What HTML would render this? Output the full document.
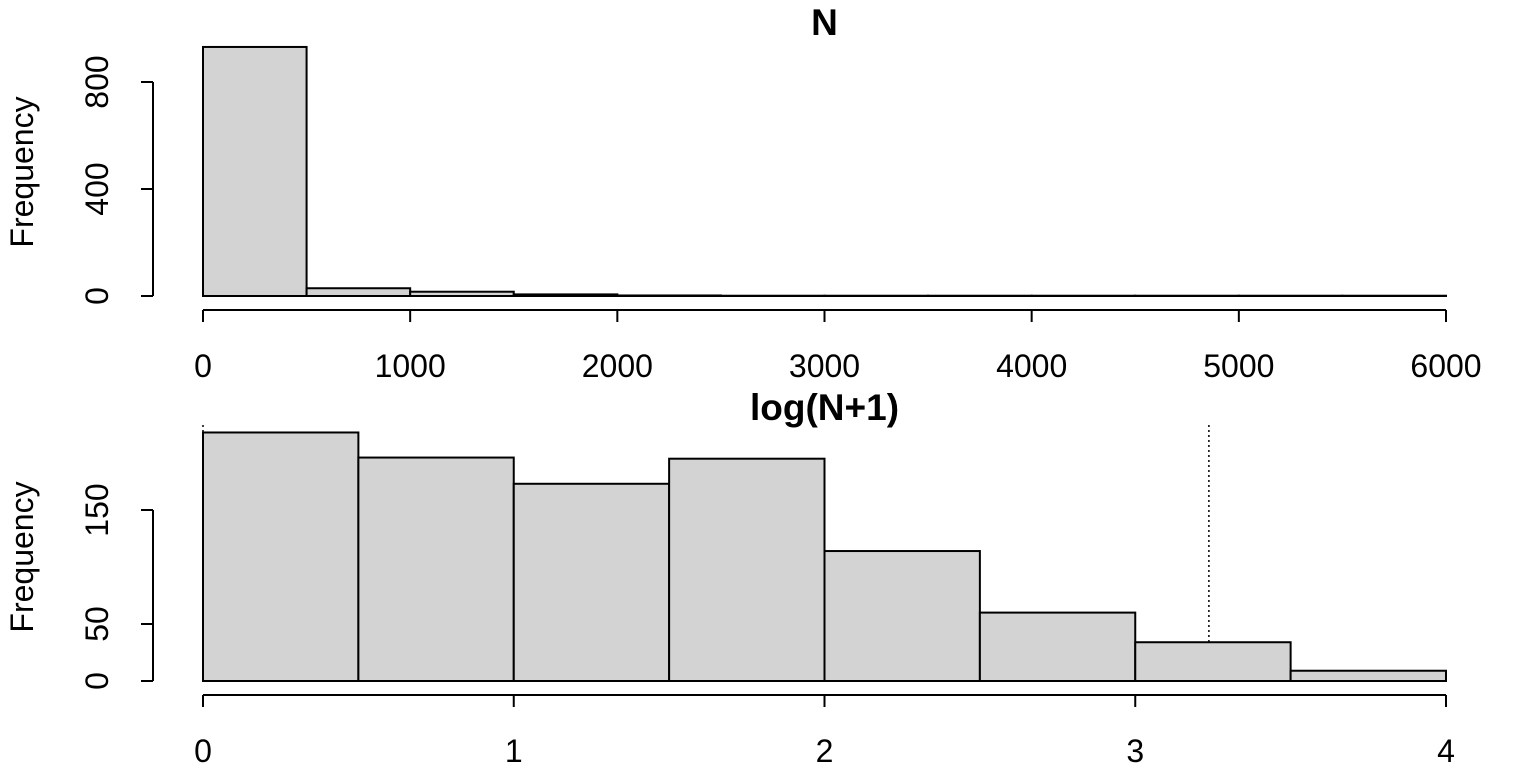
<!DOCTYPE html>
<html><head><meta charset="utf-8"><style>
body{margin:0;background:#fff}
svg{display:block;font-family:"Liberation Sans",Arial,sans-serif}
</style></head><body>
<svg id="c" width="1536" height="768"></svg>
<script>
const topBreaks=[0,500,1000,1500,2000,2500,3000,3500,4000,4500,5000,5500,6000];
const topCounts=[931,29,16,6,2,1,1,1,1,1,1,1];
const topYTicks=[0,400,800];
const topXTicks=[0,1000,2000,3000,4000,5000,6000];
const botBreaks=[0,0.5,1,1.5,2,2.5,3,3.5,4];
const botCounts=[218,196,173,195,114,60,34,9];
const botYTicks=[0,50,150];
const botXTicks=[0,1,2,3,4];
const vlines=[0,3.237];

const NS="http://www.w3.org/2000/svg";
const svg=document.getElementById('c');
function el(tag,attrs,parent){const e=document.createElementNS(NS,tag);for(const k in attrs)e.setAttribute(k,attrs[k]);(parent||svg).appendChild(e);return e;}

function panel(cfg){
  const g=el('g',{});
  
  
  const xs=v=>cfg.x0+(v-cfg.xmin)/(cfg.xmax-cfg.xmin)*(cfg.x1-cfg.x0);
  const ys=v=>cfg.yb-v*cfg.ppu;
  const t=el('text',{x:(cfg.x0+cfg.x1)/2,y:cfg.titleY,'text-anchor':'middle','font-size':37,'font-weight':'bold'},g);
  t.textContent=cfg.title;
  
  
  (cfg.vl||[]).forEach(v=>{
    const l=el('line',{x1:xs(v),x2:xs(v),y1:cfg.vlTop,y2:cfg.yb,stroke:'#000','stroke-width':1.5,'stroke-dasharray':'2,3'},g);
    
    
  });
  cfg.counts.forEach((c,i)=>{
    const x=xs(cfg.breaks[i]),w=xs(cfg.breaks[i+1])-x;
    const r=el('rect',{x:x,y:ys(c),width:w,height:c*cfg.ppu,fill:'#d3d3d3',stroke:'#000','stroke-width':2},g);
    
    
  });
  const ya=el('g',{},g);
  
  
  const yt=cfg.yTicks;
  el('line',{x1:cfg.yax,x2:cfg.yax,y1:ys(yt[0]),y2:ys(yt[yt.length-1]),stroke:'#000','stroke-width':2},ya);
  yt.forEach(v=>{
    el('line',{x1:cfg.yax-12,x2:cfg.yax,y1:ys(v),y2:ys(v),stroke:'#000','stroke-width':2},ya);
    const tx=el('text',{x:0,y:0,'text-anchor':'middle','font-size':32,transform:`translate(${cfg.yax-45},${ys(v)}) rotate(-90)`},ya);
    tx.textContent=v;
  });
  const yl=el('text',{x:0,y:0,'text-anchor':'middle','font-size':32,transform:`translate(33,${cfg.ylabY}) rotate(-90)`},g);
  yl.textContent='Frequency';
  
  
  const xa=el('g',{},g);
  
  
  const xt=cfg.xTicks;
  el('line',{x1:xs(xt[0]),x2:xs(xt[xt.length-1]),y1:cfg.xay,y2:cfg.xay,stroke:'#000','stroke-width':2},xa);
  xt.forEach(v=>{
    el('line',{x1:xs(v),x2:xs(v),y1:cfg.xay,y2:cfg.xay+12,stroke:'#000','stroke-width':2},xa);
    const tx=el('text',{x:xs(v),y:cfg.xay+67,'text-anchor':'middle','font-size':32},xa);
    tx.textContent=v;
  });
}
panel({name:'n-histogram',title:'N',titleY:35,x0:203,x1:1446,xmin:0,xmax:6000,yb:296,ppu:0.2675,yax:153,xay:310,ylabY:172,
  breaks:topBreaks,counts:topCounts,yTicks:topYTicks,xTicks:topXTicks});
panel({name:'log-n-histogram',title:'log(N+1)',titleY:420,x0:203,x1:1446,xmin:0,xmax:4,yb:681,ppu:1.14,yax:153,xay:695,ylabY:557,
  breaks:botBreaks,counts:botCounts,yTicks:botYTicks,xTicks:botXTicks,vl:vlines,vlTop:425});
</script>
</body></html>
